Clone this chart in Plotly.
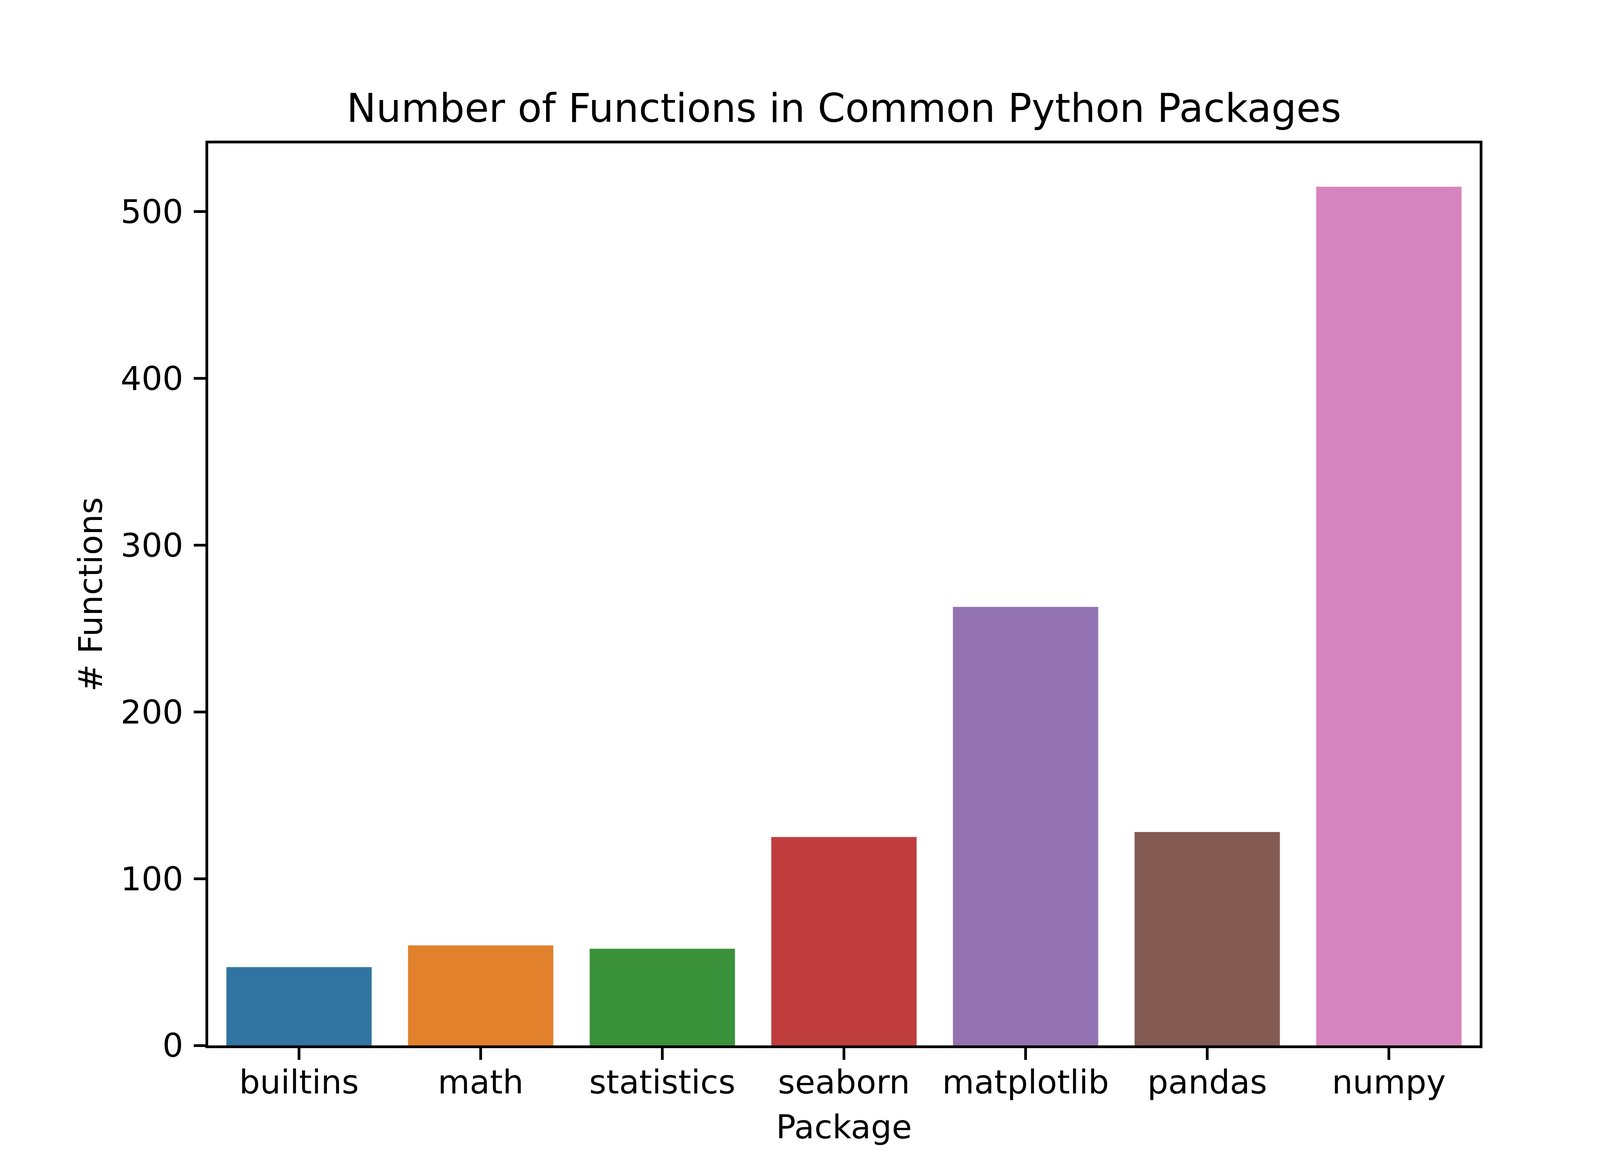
import plotly.graph_objects as go

# data
packages = ["builtins", "math", "statistics", "seaborn", "matplotlib", "pandas", "numpy"]
n_functions = [47, 60, 58, 125, 263, 128, 515]
bar_colors = ["#3274a1", "#e1812c", "#3a923a", "#c03d3e", "#9372b2", "#845b53", "#d684bd"]
y_ticks = [0, 100, 200, 300, 400, 500]

font = "DejaVu Sans"

fig = go.Figure(go.Bar(x=packages, y=n_functions, marker=dict(color=bar_colors, line=dict(width=0)),
                       showlegend=False))

fig.update_layout(
    width=4200, height=3000,
    margin=dict(l=525, r=420, t=359, b=332),
    paper_bgcolor="white", plot_bgcolor="white",
    bargap=0.2,
    font=dict(family=font, size=84, color="black"),
    title=dict(text="Number of Functions in Common Python Packages", x=0.5, xanchor="center",
               xref="paper", y=1 - 269 / 3000, yanchor="middle", yref="container",
               font=dict(family=font, size=101, color="black")),
)

fig.update_xaxes(
    title=dict(text="Package", standoff=40, font=dict(size=84)),
    range=[-0.5, 6.5], showline=True, mirror=True, linecolor="black", linewidth=7,
    ticks="outside", ticklen=30, tickwidth=7, tickcolor="black", showgrid=False,
    tickfont=dict(size=84), ticklabelstandoff=-15,
)
fig.update_yaxes(
    title=dict(text="# Functions", standoff=22, font=dict(size=84)),
    range=[0, 541], tickvals=y_ticks, showline=True, mirror=True, linecolor="black", linewidth=7,
    ticks="outside", ticklen=30, tickwidth=7, tickcolor="black", showgrid=False, zeroline=False,
    tickfont=dict(size=84), ticklabelstandoff=10,
)

fig.write_html("out.html")
